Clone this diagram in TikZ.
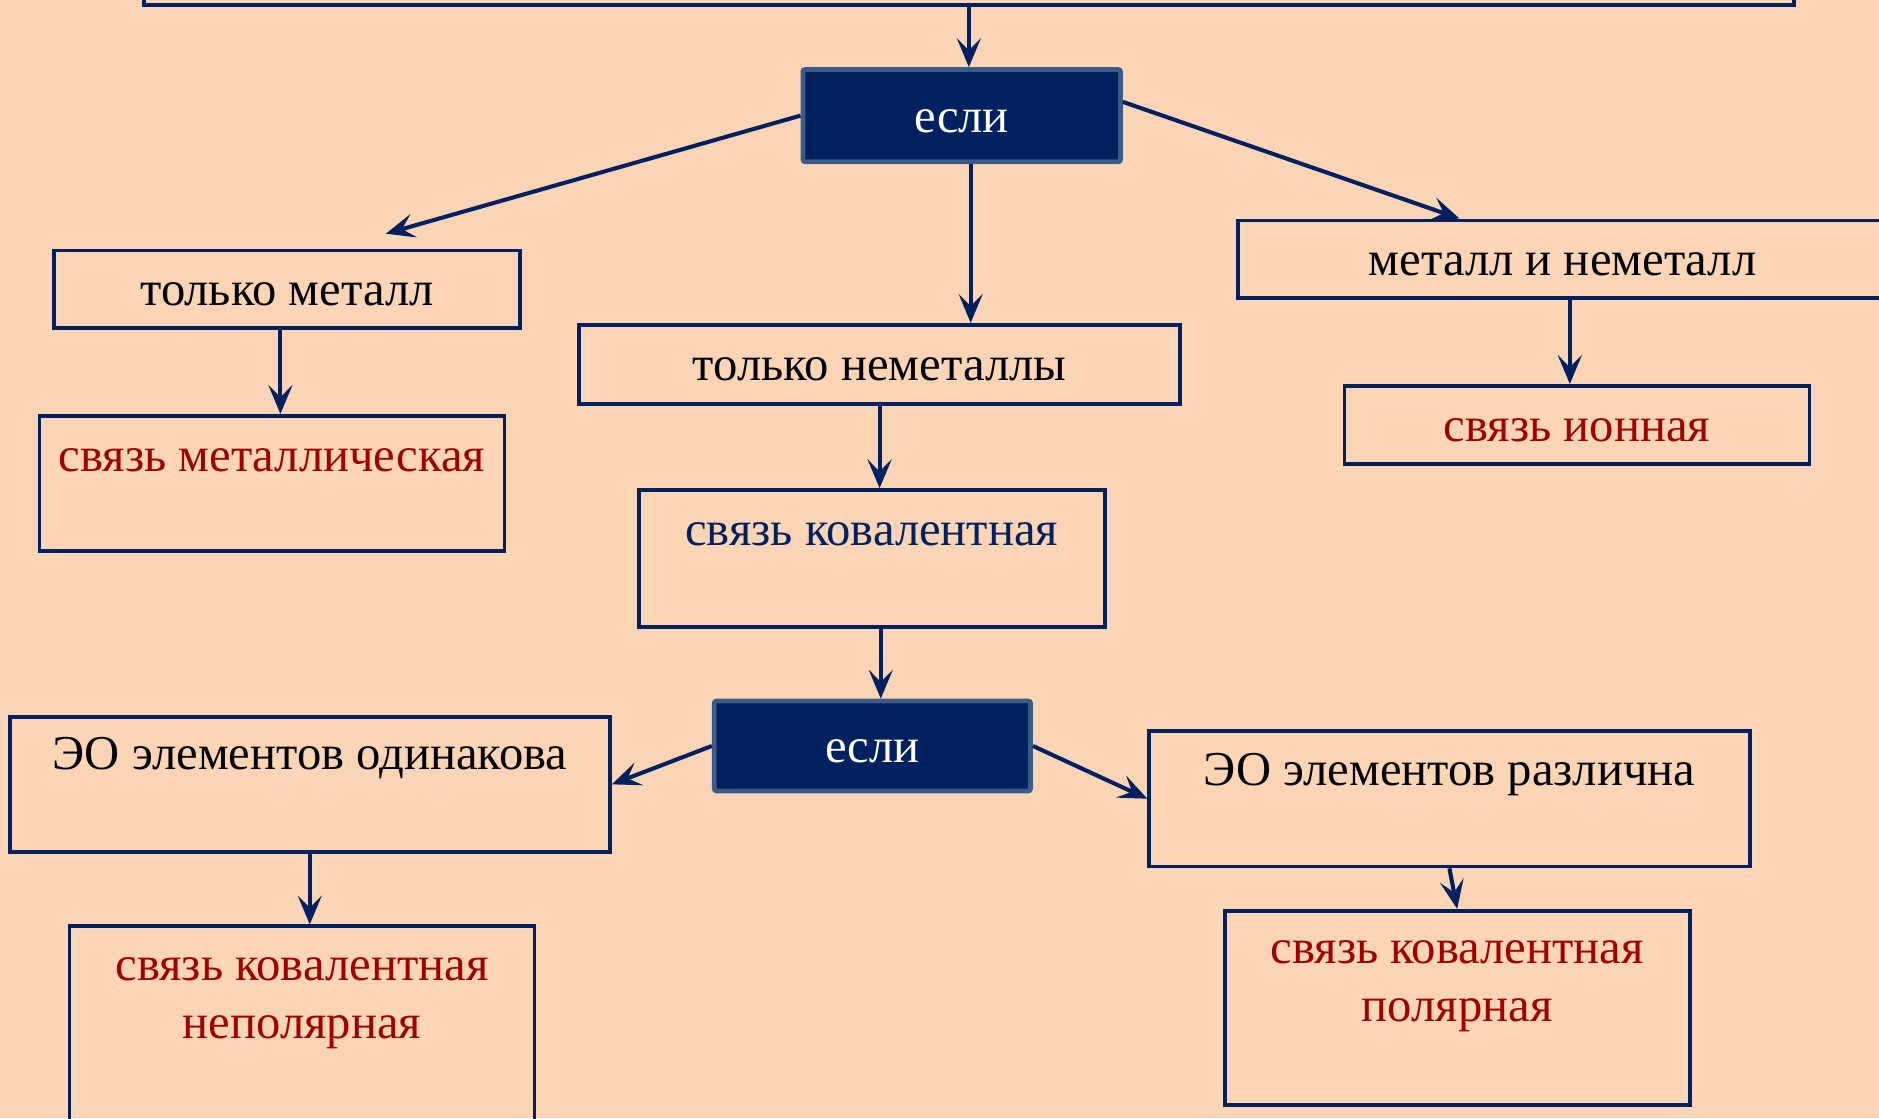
\documentclass[tikz,border=0pt]{standalone}
\usepackage{fontspec}
\setmainfont{Liberation Serif}
\usetikzlibrary{arrows.meta, positioning}
\definecolor{navy}{RGB}{0,32,96}
\definecolor{navyedge}{RGB}{58,90,135}
\definecolor{peach}{RGB}{251,213,181}
\definecolor{bondred}{RGB}{160,0,0}

\begin{document}
\begin{tikzpicture}[
			x=0.5pt, y=-0.5pt,
			every node/.style={font=\fontsize{20.3}{24}\selectfont, align=center, inner sep=0pt},
			box/.style={draw=navy, line width=1.6pt, rectangle, text height=13.5pt, text depth=0pt},
			decision/.style={rectangle, rounded corners=1pt, fill=navy, draw=navyedge, line width=2pt, text=white, text height=14pt, text depth=0pt},
			arrow/.style={-{Stealth[length=12pt, width=10pt, inset=5pt]}, navy, line width=1.7pt}
			]
			
			% Background
			\path [use as bounding box, fill=peach] (0,0) rectangle (1568,933);
			\clip (0,0) rectangle (1568,933);
			
			% Nodes
			\node (given) [box, minimum width=688.5pt, minimum height=27pt] at (808.5,-23) {};
			\node (cond) [decision, minimum width=132.5pt, minimum height=38.5pt] at (802.5,96.5) {если};
			\node (metal) [box, minimum width=194.5pt, minimum height=32.5pt] at (239.5,241.5) {только металл};
			\node (nonmetal) [box, minimum width=251pt, minimum height=33pt] at (734,304) {только неметаллы};
			\node (mixed) [box, minimum width=271pt, minimum height=32.5pt] at (1304,216.5) {металл и неметалл};
			\node (metbond) [box, minimum width=194pt, minimum height=56.5pt] at (227,403.5) {};
			\node (metbondtext) [text=bondred] at (227,384) {связь металлическая};
			\node (covbond) [box, minimum width=194.5pt, minimum height=57pt] at (727.5,466) {};
			\node (covbondtext) [text=navy] at (727.5,446) {связь ковалентная};
			\node (ionbond) [box, minimum width=194pt, minimum height=32.5pt, text=bondred] at (1316,354.5) {связь ионная};
			\node (cond2) [decision, minimum width=132pt, minimum height=37.5pt] at (728,622.5) {если};
			\node (same) [box, minimum width=250.5pt, minimum height=56.5pt] at (258.5,654.5) {};
			\node (sametext) at (258.5,633) {ЭО элементов одинакова};
			\node (diff) [box, minimum width=250.5pt, minimum height=56.5pt] at (1209.5,666.5) {};
			\node (difftext) at (1209.5,646) {ЭО элементов различна};
			\node (nonpolar) [box, minimum width=194pt, minimum height=110pt] at (252,883) {};
			\node (nonpolartext) [text=bondred] at (252,837) {связь ковалентная\\неполярная};
			\node (polar) [box, minimum width=194pt, minimum height=81pt] at (1216,841) {};
			\node (polartext) [text=bondred] at (1216,823) {связь ковалентная\\полярная};
			\coordinate (metaltip) at (322,195);
			
			% Connections
			\draw [arrow] (given.south) -- (given.south |- cond.north);
			\draw [arrow] (cond.west) -- (metaltip);
			\draw [arrow] ([xshift=3.75pt]cond.south) -- ([xshift=38pt]nonmetal.north);
			\draw [arrow] ([yshift=5.75pt]cond.east) -- ([xshift=-43pt]mixed.north);
			\draw [arrow] ([xshift=-2.75pt]metal.south) -- ([xshift=3.5pt]metbond.north);
			\draw [arrow] (nonmetal.south) -- (nonmetal.south |- covbond.north);
			\draw [arrow] ([xshift=3pt]mixed.south) -- ([xshift=-3pt]ionbond.north);
			\draw [arrow] ([xshift=3.75pt]covbond.south) -- ([xshift=3.5pt]cond2.north);
			\draw [arrow] (cond2.west) -- (same.east);
			\draw [arrow] (cond2.east) -- (diff.west);
			\draw [arrow] (same.south) -- (same.south |- nonpolar.north);
			\draw [arrow] (diff.south) -- (polar.north);
			
		\end{tikzpicture}
\end{document}
